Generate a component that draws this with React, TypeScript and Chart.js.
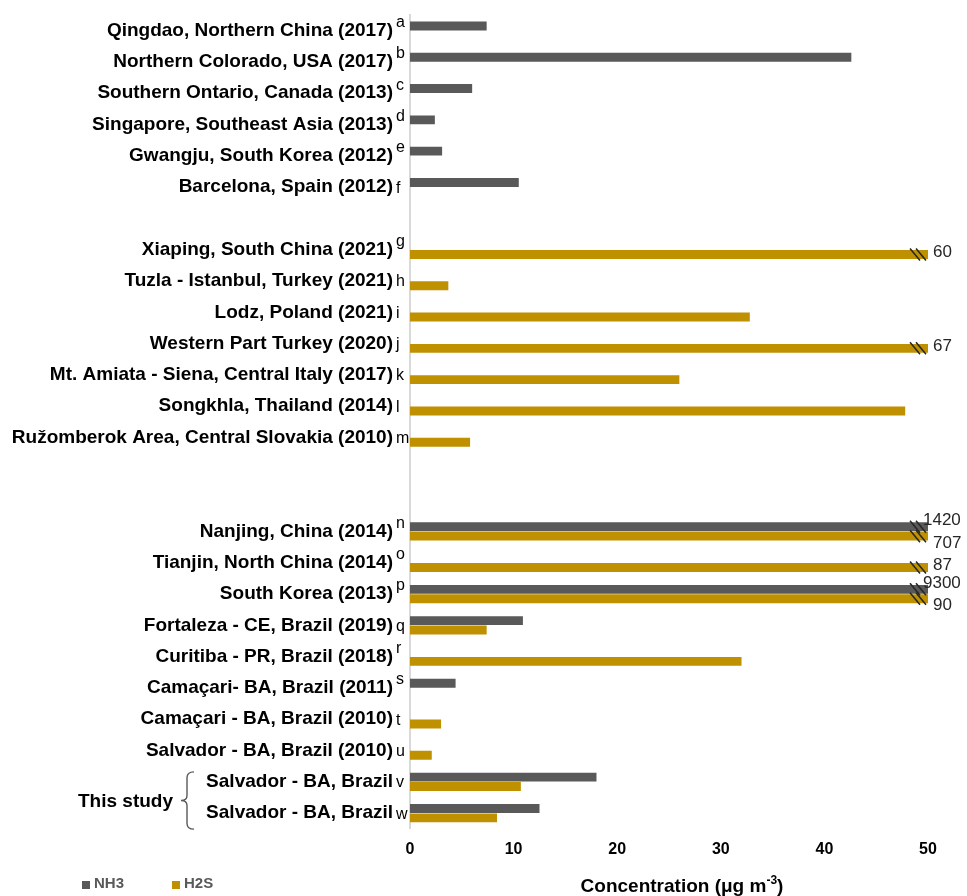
import React, { useEffect, useRef } from "react";
import { Chart, registerables } from "chart.js";

Chart.register(...registerables);

const categories = [
  "Qingdao, Northern China (2017)",
  "Northern Colorado, USA (2017)",
  "Southern Ontario, Canada (2013)",
  "Singapore, Southeast Asia (2013)",
  "Gwangju, South Korea (2012)",
  "Barcelona, Spain (2012)",
  "",
  "Xiaping, South China (2021)",
  "Tuzla - Istanbul, Turkey (2021)",
  "Lodz, Poland (2021)",
  "Western Part Turkey (2020)",
  "Mt. Amiata - Siena, Central Italy (2017)",
  "Songkhla, Thailand (2014)",
  "Ružomberok Area, Central Slovakia (2010)",
  "",
  "",
  "Nanjing, China (2014)",
  "Tianjin, North China (2014)",
  "South Korea (2013)",
  "Fortaleza - CE, Brazil (2019)",
  "Curitiba - PR, Brazil (2018)",
  "Camaçari- BA, Brazil (2011)",
  "Camaçari - BA, Brazil (2010)",
  "Salvador - BA, Brazil (2010)",
  "Salvador - BA, Brazil",
  "Salvador - BA, Brazil",
];

const refLetters = [
  "a", "b", "c", "d", "e", "f", "",
  "g", "h", "i", "j", "k", "l", "m", "", "",
  "n", "o", "p", "q", "r", "s", "t", "u", "v", "w",
];

const letterRaised = [
  true, true, true, true, true, false, false,
  true, false, false, false, false, false, false, false, false,
  true, true, true, false, true, true, false, false, false, false,
];

const nh3Values = [
  7.4, 42.6, 6.0, 2.4, 3.1, 10.5, null,
  null, null, null, null, null, null, null, null, null,
  1420, null, 9300, 10.9, null, 4.4, null, null, 18.0, 12.5,
];

const h2sValues = [
  null, null, null, null, null, null, null,
  60, 3.7, 32.8, 67, 26, 47.8, 5.8, null, null,
  707, 87, 90, 7.4, 32, null, 3.0, 2.1, 10.7, 8.4,
];

const seriesNames = ["NH3", "H2S"];
const seriesColors = ["#595959", "#BF9000"];
const xTickStep = 10;
const xMax = 50;
const groupLabel = "This study";
const axisTitle = "Concentration (μg m";
const axisTitleSup = "-3";

const FONT = '"Liberation Sans", Arial, sans-serif';

const overlayPlugin = {
  id: "overlay",
  afterDatasetsDraw(chart: any) {
    const ctx = chart.ctx;
    const xs = chart.scales.x;
    const xEnd = xs.getPixelForValue(xMax);
    ctx.save();
    chart.data.datasets.forEach((ds: any, di: number) => {
      const meta = chart.getDatasetMeta(di);
      meta.data.forEach((el: any, i: number) => {
        const v = ds.data[i];
        if (v == null || v <= xMax) return;
        const y = el.y;
        ctx.strokeStyle = "#262626";
        ctx.lineWidth = 1.5;
        for (const cx of [xEnd - 13, xEnd - 7]) {
          ctx.beginPath();
          ctx.moveTo(cx - 5, y - 6);
          ctx.lineTo(cx + 5, y + 6);
          ctx.stroke();
        }
        const other = chart.data.datasets[1 - di].data[i];
        const paired = other != null && other > xMax;
        let dy = -2;
        if (paired) dy = di === 0 ? -6 : 7;
        ctx.fillStyle = "#262626";
        ctx.font = `17px ${FONT}`;
        ctx.textAlign = "left";
        ctx.textBaseline = "middle";
        ctx.fillText(String(v), xEnd + (paired && di === 0 ? -5 : 5), y + dy);
      });
    });
    ctx.restore();
  },
  afterDraw(chart: any) {
    const ctx = chart.ctx;
    const ys = chart.scales.y;
    const xs = chart.scales.x;
    const area = chart.chartArea;
    ctx.save();
    ctx.fillStyle = "#000";
    ctx.font = `16px ${FONT}`;
    ctx.textAlign = "left";
    ctx.textBaseline = "middle";
    refLetters.forEach((l, i) => {
      if (!l) return;
      const y = ys.getPixelForValue(i);
      ctx.fillText(l, area.left - 14, y + (letterRaised[i] ? -8 : 1));
    });
    const yv = ys.getPixelForValue(categories.length - 2);
    const yw = ys.getPixelForValue(categories.length - 1);
    const top = yv - 10;
    const bot = yw + 16;
    const mid = (top + bot) / 2;
    const bx = 187;
    ctx.strokeStyle = "#595959";
    ctx.lineWidth = 1.4;
    ctx.beginPath();
    ctx.moveTo(bx + 7, top);
    ctx.quadraticCurveTo(bx, top, bx, top + 6);
    ctx.lineTo(bx, mid - 5);
    ctx.quadraticCurveTo(bx, mid, bx - 6, mid);
    ctx.quadraticCurveTo(bx, mid, bx, mid + 5);
    ctx.lineTo(bx, bot - 6);
    ctx.quadraticCurveTo(bx, bot, bx + 7, bot);
    ctx.stroke();
    ctx.fillStyle = "#000";
    ctx.font = `bold 19px ${FONT}`;
    ctx.textAlign = "right";
    ctx.textBaseline = "middle";
    ctx.fillText(groupLabel, bx - 14, mid + 1);
    const legY = 884;
    let lx = 82;
    seriesNames.forEach((name, i) => {
      ctx.fillStyle = seriesColors[i];
      ctx.fillRect(lx, legY - 3, 8, 8);
      ctx.fillStyle = "#595959";
      ctx.font = `bold 15px ${FONT}`;
      ctx.textAlign = "left";
      ctx.textBaseline = "middle";
      ctx.fillText(name, lx + 12, legY);
      lx += 90;
    });
    ctx.fillStyle = "#000";
    ctx.font = `bold 19px ${FONT}`;
    const w1 = ctx.measureText(axisTitle).width;
    ctx.font = `bold 12px ${FONT}`;
    const w2 = ctx.measureText(axisTitleSup).width;
    ctx.font = `bold 19px ${FONT}`;
    const w3 = ctx.measureText(")").width;
    const total = w1 + w2 + w3;
    const cx = (xs.left + xs.right) / 2 + 13;
    let tx = cx - total / 2;
    const base = 892;
    ctx.textAlign = "left";
    ctx.textBaseline = "alphabetic";
    ctx.fillText(axisTitle, tx, base);
    tx += w1;
    ctx.font = `bold 12px ${FONT}`;
    ctx.fillText(axisTitleSup, tx, base - 8);
    tx += w2;
    ctx.font = `bold 19px ${FONT}`;
    ctx.fillText(")", tx, base);
    ctx.restore();
  },
};

export default function App() {
  const ref = useRef<HTMLCanvasElement | null>(null);
  useEffect(() => {
    if (!ref.current) return;
    const chart = new Chart(ref.current, {
      type: "bar",
      data: {
        labels: categories,
        datasets: [
          {
            label: seriesNames[0],
            data: nh3Values as any,
            backgroundColor: seriesColors[0],
            categoryPercentage: 0.6,
            barPercentage: 0.95,
          },
          {
            label: seriesNames[1],
            data: h2sValues as any,
            backgroundColor: seriesColors[1],
            categoryPercentage: 0.6,
            barPercentage: 0.95,
          },
        ],
      },
      options: {
        indexAxis: "y",
        animation: false,
        responsive: true,
        maintainAspectRatio: false,
        layout: { padding: { top: 15, right: 39, bottom: 26, left: 0 } },
        plugins: {
          legend: { display: false },
          tooltip: { enabled: false },
        },
        scales: {
          x: {
            type: "linear",
            min: 0,
            max: xMax,
            grid: { display: false, drawTicks: false },
            border: { display: false },
            ticks: {
              stepSize: xTickStep,
              padding: 11,
              color: "#000",
              font: { family: FONT, size: 16, weight: "bold" },
            },
          },
          y: {
            type: "category",
            grid: { display: false, drawTicks: false },
            border: { display: true, color: "#d9d9d9", width: 2 },
            afterFit: (scale: any) => {
              scale.width = 410;
              scale.paddingTop = 0;
              scale.paddingBottom = 0;
            },
            ticks: {
              autoSkip: false,
              padding: 17,
              color: "#000",
              font: { family: FONT, size: 19, weight: "bold" },
            },
          },
        },
      },
      plugins: [overlayPlugin],
    });
    return () => chart.destroy();
  }, []);
  return (
    <div style={{ position: "fixed", left: 0, top: 0, width: 967, height: 896, background: "#fff" }}>
      <canvas ref={ref} />
    </div>
  );
}
